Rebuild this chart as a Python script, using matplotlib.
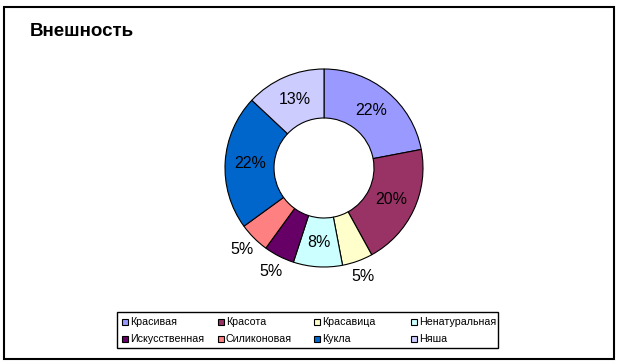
import matplotlib.pyplot as plt
from matplotlib.patches import Rectangle

plt.rcParams['font.family'] = ['Liberation Sans', 'DejaVu Sans']

categories = ['Красивая', 'Красота', 'Красавица', 'Ненатуральная',
              'Искусственная', 'Силиконовая', 'Кукла', 'Няша']
values = [22, 20, 5, 8, 5, 5, 22, 13]
colors = ['#9999FF', '#993366', '#FFFFCC', '#CCFFFF',
          '#660066', '#FF8080', '#0066CC', '#CCCCFF']

W, H = 621, 361
fig = plt.figure(figsize=(W / 100, H / 100), dpi=100)

# outer frame
fig.patches.append(Rectangle((4 / W, 2 / H), 610 / W, 352 / H, transform=fig.transFigure,
                             fill=False, edgecolor='black', linewidth=1.5))

fig.text(30 / W, 1 - 31 / H, 'Внешность', fontsize=13.5, fontweight='bold', va='center', ha='left')

# pie axes: centre (324,168), radius ~99 px
cx, cy, r = 324, 168, 100
ax = fig.add_axes([(cx - r) / W, (H - cy - r) / H, 2 * r / W, 2 * r / H])
wedges, texts, autotexts = ax.pie(values, colors=colors, startangle=90, counterclock=False,
                                  radius=0.99, autopct='%1.0f%%', pctdistance=0.75,
                                  wedgeprops=dict(width=0.49, edgecolor='black', linewidth=0.8),
                                  textprops=dict(fontsize=11.5))
ax.set_xlim(-1, 1)
ax.set_ylim(-1, 1)
ax.set_aspect('equal')
ax.axis('off')

# small slices get their labels outside
for w, t, v in zip(wedges, autotexts, values):
    if v <= 5:
        x, y = t.get_position()
        t.set_position((x / 0.75 * 1.17, y / 0.75 * 1.17))

# legend drawn as a boxed grid
lx0, ly0, lx1, ly1 = 117, 312, 498, 348
fig.patches.append(Rectangle((lx0 / W, 1 - ly1 / H), (lx1 - lx0) / W, (ly1 - ly0) / H,
                             transform=fig.transFigure, fill=False, edgecolor='black', linewidth=1))
col_x = [122, 218, 314, 411]
row_y = [322, 339]
for i, (name, c) in enumerate(zip(categories, colors)):
    x = col_x[i % 4]
    y = row_y[i // 4]
    fig.patches.append(Rectangle((x / W, 1 - (y + 3) / H), 6 / W, 6 / H, transform=fig.transFigure,
                                 facecolor=c, edgecolor='black', linewidth=0.8))
    fig.text((x + 8) / W, 1 - y / H, name, fontsize=7.7, va='center', ha='left')

fig.savefig('out.png', dpi=100)
